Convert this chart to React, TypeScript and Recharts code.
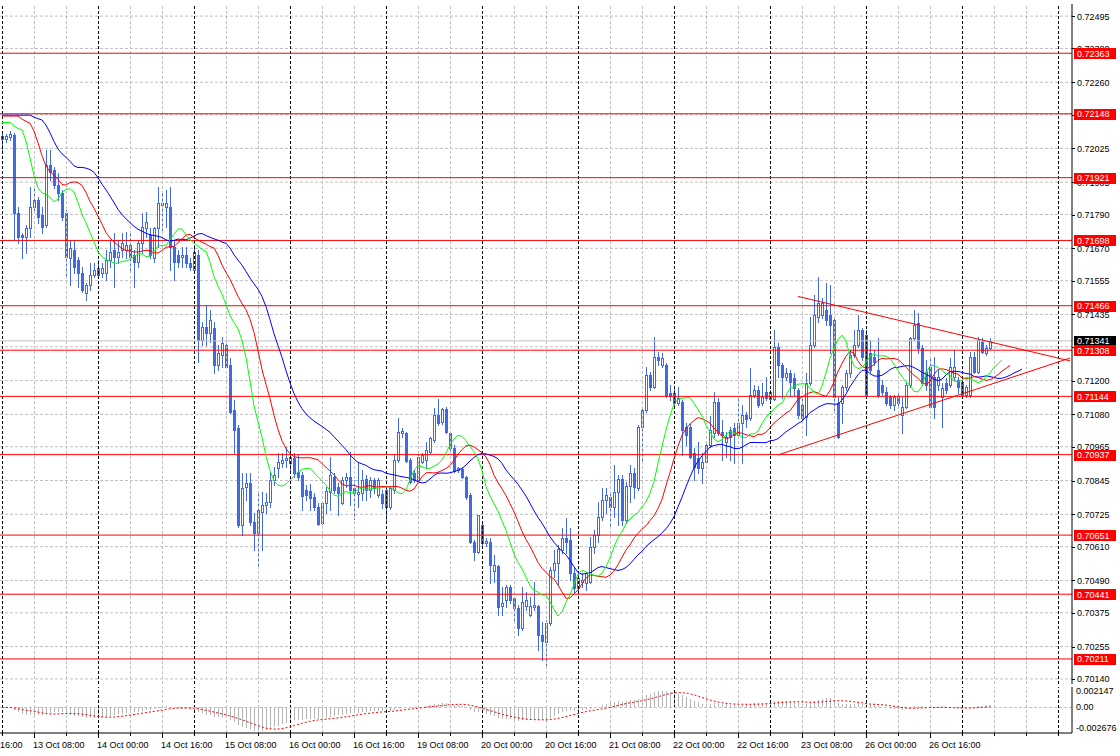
import { Bar, CartesianGrid, ComposedChart, Line, ReferenceLine, XAxis, YAxis } from "recharts";

const FONT = '"Liberation Sans", Arial, sans-serif';
const CANDLE = "#4169e1";
const GRID = "#c0c0c0";

// H1 bars from 13 Oct 00:00 (weekend skipped)
const opens = [
  0.72058, 0.72058, 0.72065, 0.72072, 0.71795, 0.71717, 0.7171, 0.71742,
  0.71817, 0.71842, 0.71788, 0.71753, 0.71966, 0.71948, 0.71895, 0.71867,
  0.71795, 0.71636, 0.71664, 0.71629, 0.71582, 0.71511, 0.7154, 0.71575,
  0.716, 0.71582, 0.71582, 0.71629, 0.71664, 0.71639, 0.71664, 0.71664,
  0.71682, 0.71646, 0.71621, 0.71689, 0.71742, 0.71717, 0.71636, 0.71742,
  0.71824, 0.71817, 0.71817, 0.71675, 0.71646, 0.71639, 0.71646, 0.71618,
  0.71593, 0.71646, 0.71344, 0.71391, 0.71369, 0.71387, 0.71256, 0.71291,
  0.71327, 0.71256, 0.71096, 0.71032, 0.70687, 0.70822, 0.70836, 0.70698,
  0.70659, 0.70733, 0.70758, 0.70769, 0.70847, 0.7089, 0.70907, 0.70918,
  0.70907, 0.70925, 0.70875, 0.70865, 0.70812, 0.70808, 0.70787, 0.70751,
  0.70694, 0.70765, 0.70804, 0.70858, 0.70822, 0.70765, 0.70847, 0.70858,
  0.70819, 0.70797, 0.70801, 0.70851, 0.70812, 0.70847, 0.70794, 0.70797,
  0.70812, 0.70751, 0.70812, 0.70918, 0.71014, 0.71014, 0.70918, 0.70872,
  0.70847, 0.70911, 0.70918, 0.70947, 0.70989, 0.71078, 0.71053, 0.71099,
  0.71014, 0.70961, 0.70883, 0.70886, 0.70858, 0.70794, 0.70627, 0.70591,
  0.70687, 0.70623, 0.70627, 0.70524, 0.70542, 0.704, 0.70421, 0.70467,
  0.70428, 0.70392, 0.70321, 0.704, 0.70368, 0.70396, 0.704, 0.70296,
  0.70272, 0.70339, 0.70527, 0.70552, 0.70598, 0.70641, 0.70634, 0.70517,
  0.70463, 0.70485, 0.70481, 0.70485, 0.70609, 0.70652, 0.70716, 0.70776,
  0.70787, 0.70751, 0.70804, 0.70851, 0.70705, 0.70826, 0.70872, 0.70819,
  0.71035, 0.71096, 0.7122, 0.71177, 0.71284, 0.71256, 0.71256, 0.71156,
  0.71156, 0.71121, 0.71124, 0.71035, 0.71035, 0.70943, 0.70925, 0.7089,
  0.70911, 0.70971, 0.71014, 0.71124, 0.71018, 0.70982, 0.71025, 0.71032,
  0.71007, 0.7105, 0.71078, 0.71067, 0.71149, 0.71167, 0.71121, 0.7116,
  0.71135, 0.71135, 0.71319, 0.71256, 0.71213, 0.71227, 0.71209, 0.71167,
  0.71113, 0.71071, 0.71192, 0.71327, 0.71426, 0.71433, 0.71451, 0.71433,
  0.71415, 0.71121, 0.71121, 0.71177, 0.71227, 0.71291, 0.71327, 0.7138,
  0.71362, 0.71298, 0.71284, 0.71238, 0.71184, 0.7116, 0.71142, 0.71113,
  0.71142, 0.71078, 0.71106, 0.71184, 0.71351, 0.71405, 0.71316, 0.71231,
  0.71248, 0.71213, 0.71184, 0.71142, 0.71192, 0.71184, 0.71213, 0.71202,
  0.71195, 0.71149, 0.71149, 0.71284, 0.71231, 0.71337, 0.71298, 0.71316,
];

const highs = [
  0.72087, 0.72076, 0.72087, 0.7208, 0.71817, 0.71724, 0.71753, 0.71888,
  0.71888, 0.71852, 0.71817, 0.72019, 0.72019, 0.71959, 0.71937, 0.71877,
  0.71806, 0.717, 0.717, 0.71639, 0.71604, 0.71547, 0.71618, 0.71618,
  0.71629, 0.71618, 0.71664, 0.717, 0.71724, 0.717, 0.71724, 0.71728,
  0.71724, 0.71664, 0.717, 0.71795, 0.71799, 0.71742, 0.71746, 0.71888,
  0.7187, 0.71877, 0.71888, 0.717, 0.71664, 0.71675, 0.71675, 0.71636,
  0.71682, 0.71664, 0.71408, 0.71469, 0.71451, 0.71408, 0.71327, 0.71355,
  0.71344, 0.7128, 0.71131, 0.71042, 0.70872, 0.70872, 0.70872, 0.7073,
  0.70801, 0.70804, 0.70801, 0.70875, 0.70893, 0.70943, 0.70943, 0.70964,
  0.70971, 0.70943, 0.70936, 0.70875, 0.70829, 0.70833, 0.70801, 0.70765,
  0.70769, 0.70822, 0.70929, 0.70872, 0.70836, 0.70858, 0.70872, 0.70947,
  0.70847, 0.70911, 0.70883, 0.70865, 0.70858, 0.70854, 0.70854, 0.70812,
  0.70819, 0.70826, 0.70936, 0.71067, 0.71032, 0.71018, 0.70925, 0.70883,
  0.70943, 0.70943, 0.70982, 0.71, 0.71103, 0.71135, 0.71103, 0.71106,
  0.71018, 0.70971, 0.70893, 0.70893, 0.70861, 0.70801, 0.70634, 0.70723,
  0.70698, 0.70641, 0.70641, 0.70581, 0.70545, 0.70467, 0.70474, 0.70474,
  0.70431, 0.70403, 0.70467, 0.70449, 0.70431, 0.70485, 0.70403, 0.70343,
  0.7035, 0.70538, 0.70598, 0.70616, 0.70677, 0.70712, 0.70677, 0.70538,
  0.70517, 0.70517, 0.7052, 0.70645, 0.70669, 0.70769, 0.70819, 0.70819,
  0.70804, 0.709, 0.70865, 0.70865, 0.7084, 0.709, 0.7089, 0.71042,
  0.71103, 0.71248, 0.71231, 0.71355, 0.71302, 0.71298, 0.71263, 0.71184,
  0.71174, 0.71177, 0.71131, 0.7105, 0.7105, 0.70961, 0.70982, 0.70943,
  0.70982, 0.71074, 0.7116, 0.71138, 0.7106, 0.71018, 0.71035, 0.7105,
  0.71138, 0.71113, 0.71089, 0.71245, 0.71184, 0.71181, 0.71192, 0.71213,
  0.71167, 0.7138, 0.71334, 0.71263, 0.71245, 0.71238, 0.71227, 0.71174,
  0.71138, 0.71227, 0.71426, 0.71504, 0.71568, 0.71494, 0.71547, 0.7154,
  0.71426, 0.71142, 0.71184, 0.71238, 0.71309, 0.7138, 0.71433, 0.71387,
  0.7138, 0.71344, 0.71309, 0.71351, 0.71202, 0.71177, 0.71149, 0.71149,
  0.71156, 0.71142, 0.71195, 0.71355, 0.71451, 0.7144, 0.71327, 0.71273,
  0.7128, 0.71284, 0.71238, 0.71192, 0.71209, 0.7128, 0.71309, 0.71213,
  0.71202, 0.71184, 0.71302, 0.71302, 0.71355, 0.71351, 0.71327, 0.71351,
];

const lows = [
  0.72019, 0.72048, 0.72055, 0.717, 0.71689, 0.71636, 0.71653, 0.7171,
  0.71806, 0.7176, 0.71724, 0.71746, 0.71913, 0.71884, 0.71842, 0.71771,
  0.71568, 0.7154, 0.71582, 0.71533, 0.71515, 0.71486, 0.71522, 0.71568,
  0.71568, 0.71568, 0.71557, 0.71604, 0.71533, 0.71618, 0.71639, 0.71636,
  0.71582, 0.71533, 0.71604, 0.71653, 0.7171, 0.71636, 0.71621, 0.71675,
  0.71724, 0.71746, 0.71593, 0.71557, 0.71604, 0.71604, 0.71604, 0.71593,
  0.71586, 0.71266, 0.71327, 0.71327, 0.71337, 0.71227, 0.71238, 0.71248,
  0.71245, 0.71085, 0.70943, 0.7068, 0.70652, 0.70776, 0.70687, 0.70598,
  0.70545, 0.70598, 0.7073, 0.70751, 0.70829, 0.70858, 0.70893, 0.70893,
  0.70883, 0.70858, 0.70847, 0.7074, 0.70776, 0.7074, 0.7074, 0.70687,
  0.70691, 0.7073, 0.7074, 0.70801, 0.70723, 0.70762, 0.70822, 0.70758,
  0.70709, 0.70751, 0.70776, 0.70776, 0.70787, 0.70801, 0.70787, 0.70748,
  0.70694, 0.70744, 0.70801, 0.70911, 0.71, 0.70911, 0.70836, 0.7084,
  0.7084, 0.70907, 0.70893, 0.70943, 0.70982, 0.71042, 0.71046, 0.71014,
  0.70954, 0.70875, 0.70875, 0.70854, 0.7078, 0.70623, 0.70563, 0.70588,
  0.70616, 0.70613, 0.70481, 0.70485, 0.70368, 0.70368, 0.70396, 0.7041,
  0.70339, 0.70296, 0.70314, 0.70385, 0.70364, 0.70385, 0.70243, 0.70208,
  0.7019, 0.70332, 0.70502, 0.70474, 0.70588, 0.70588, 0.70492, 0.70449,
  0.70449, 0.70467, 0.70456, 0.70481, 0.70588, 0.70627, 0.70705, 0.7073,
  0.70687, 0.70716, 0.70687, 0.70687, 0.70694, 0.70769, 0.70783, 0.70812,
  0.70907, 0.71089, 0.71167, 0.71174, 0.71256, 0.71248, 0.71142, 0.71131,
  0.71113, 0.71113, 0.70936, 0.70971, 0.70925, 0.70847, 0.70872, 0.70836,
  0.70907, 0.70964, 0.71, 0.71007, 0.70918, 0.70929, 0.70918, 0.70907,
  0.70996, 0.70907, 0.71035, 0.7106, 0.71142, 0.71106, 0.71113, 0.71131,
  0.71131, 0.71131, 0.71213, 0.71138, 0.71202, 0.71149, 0.71149, 0.71067,
  0.71053, 0.71007, 0.71184, 0.71319, 0.71408, 0.71422, 0.71398, 0.71298,
  0.71096, 0.70996, 0.7105, 0.71167, 0.71213, 0.71284, 0.71319, 0.71273,
  0.71142, 0.71231, 0.71256, 0.71142, 0.71149, 0.71113, 0.71103, 0.71096,
  0.71113, 0.71014, 0.71103, 0.71177, 0.71344, 0.71298, 0.71184, 0.71167,
  0.71103, 0.71067, 0.71167, 0.71035, 0.71156, 0.71177, 0.71202, 0.71156,
  0.71142, 0.71142, 0.71142, 0.71227, 0.71227, 0.71298, 0.71291, 0.71312,
];

const closes = [
  0.72069, 0.72069, 0.72076, 0.71795, 0.7171, 0.7171, 0.71742, 0.71817,
  0.71842, 0.71781, 0.71746, 0.71966, 0.71941, 0.71895, 0.71867, 0.71781,
  0.71639, 0.71671, 0.71604, 0.71582, 0.71522, 0.7154, 0.71575, 0.71593,
  0.71575, 0.716, 0.71629, 0.71657, 0.71639, 0.71657, 0.71689, 0.71682,
  0.71639, 0.71621, 0.71689, 0.71746, 0.71763, 0.71646, 0.71742, 0.71831,
  0.71831, 0.71831, 0.71675, 0.71621, 0.71621, 0.71646, 0.71618, 0.71604,
  0.71657, 0.71344, 0.71391, 0.71369, 0.71415, 0.71256, 0.71298, 0.71334,
  0.71248, 0.71089, 0.71025, 0.70687, 0.70819, 0.70836, 0.70698, 0.70659,
  0.7074, 0.70758, 0.70769, 0.70847, 0.70865, 0.70911, 0.70918, 0.70925,
  0.70929, 0.70872, 0.70858, 0.7079, 0.70794, 0.70783, 0.70751, 0.70691,
  0.70765, 0.70808, 0.70865, 0.70812, 0.70801, 0.70847, 0.70858, 0.70812,
  0.70801, 0.70804, 0.70847, 0.70812, 0.70847, 0.70819, 0.70847, 0.70765,
  0.70751, 0.70819, 0.70918, 0.71018, 0.71021, 0.70915, 0.7084, 0.70847,
  0.70929, 0.70936, 0.70954, 0.70996, 0.71078, 0.7105, 0.71099, 0.71018,
  0.70961, 0.70879, 0.7089, 0.70858, 0.70787, 0.70627, 0.70591, 0.70723,
  0.70623, 0.7063, 0.70545, 0.70545, 0.70396, 0.7041, 0.70467, 0.70421,
  0.70392, 0.70321, 0.70414, 0.70421, 0.704, 0.70403, 0.70296, 0.70275,
  0.70339, 0.70527, 0.70552, 0.70602, 0.70641, 0.70627, 0.70517, 0.70463,
  0.70499, 0.70492, 0.70517, 0.70609, 0.70652, 0.70716, 0.70776, 0.70794,
  0.70751, 0.70804, 0.70851, 0.70705, 0.70826, 0.70872, 0.70822, 0.71035,
  0.71096, 0.7122, 0.71177, 0.71284, 0.71273, 0.7128, 0.71149, 0.71145,
  0.71121, 0.71138, 0.71025, 0.71007, 0.70929, 0.70893, 0.7089, 0.70911,
  0.70971, 0.71025, 0.71124, 0.71014, 0.71007, 0.71, 0.71, 0.71007,
  0.7105, 0.71078, 0.71064, 0.71149, 0.71167, 0.71113, 0.71142, 0.71138,
  0.7116, 0.71319, 0.71256, 0.71213, 0.71227, 0.71195, 0.71174, 0.71078,
  0.71067, 0.71192, 0.71327, 0.71433, 0.71476, 0.71476, 0.71415, 0.71398,
  0.71142, 0.71, 0.71177, 0.71227, 0.71291, 0.71327, 0.7138, 0.71284,
  0.71149, 0.71238, 0.71266, 0.71149, 0.7116, 0.71121, 0.71113, 0.71142,
  0.71121, 0.71106, 0.71184, 0.71351, 0.71398, 0.71316, 0.71192, 0.71184,
  0.71106, 0.71106, 0.71213, 0.71174, 0.71167, 0.71248, 0.71248, 0.71177,
  0.71149, 0.71177, 0.71284, 0.71231, 0.71344, 0.71302, 0.71316, 0.71341,
];

// horizontal levels drawn on the chart
const levelPrices = [0.72363, 0.72148, 0.71921, 0.71698, 0.71466, 0.71308, 0.71144, 0.70937, 0.70651, 0.70441, 0.70211];
const bidPrice = 0.71341;

// triangle trend lines (bar index, price)
const upperTrend = [{ bar: 199, price: 0.71499 }, { bar: 267, price: 0.7127 }];
const lowerTrend = [{ bar: 194, price: 0.70936 }, { bar: 267, price: 0.7128 }];

const priceTicks = [
  0.72495, 0.7238, 0.7226, 0.72145, 0.72025, 0.71905, 0.7179, 0.7167, 0.71555, 0.71435, 0.7132,
  0.712, 0.7108, 0.70965, 0.70845, 0.70725, 0.7061, 0.7049, 0.70375, 0.70255, 0.7014,
];
// plain ticks first, price tags last so the tags sit on top
const axisTicks = [...priceTicks, bidPrice, ...levelPrices];

const macdTicks = [0.002147, 0, -0.002676];
const macdTickLabels = ["0.002147", "0.00", "-0.002676"];

const timeTickBars = [0, 8, 24, 40, 56, 72, 88, 104, 120, 136, 152, 168, 184, 200, 216, 232];
const timeTickLabels = [
  "16:00", "13 Oct 08:00", "14 Oct 00:00", "14 Oct 16:00", "15 Oct 08:00", "16 Oct 00:00",
  "16 Oct 16:00", "19 Oct 08:00", "20 Oct 00:00", "20 Oct 16:00", "21 Oct 08:00",
  "22 Oct 00:00", "22 Oct 16:00", "23 Oct 08:00", "26 Oct 00:00", "26 Oct 16:00",
];

// alligator (SMMA of median price) — values carried in from before the first visible bar
const JAW_SEED = 0.72143;
const TEETH_SEED = 0.7214;
const LIPS_SEED = 0.72117;

const SLOTS = 268; // visible bars + right shift
const PRICE_MIN = 0.70122;
const PRICE_MAX = 0.72538;
const MACD_MIN = -0.002676;
const MACD_MAX = 0.002147;

const median = highs.map((h, i) => (h + lows[i]) / 2);

function smma(src: number[], n: number, seed: number) {
  let s = seed;
  return src.map((v) => (s = (s * (n - 1) + v) / n));
}

function ema(src: number[], n: number) {
  const a = 2 / (n + 1);
  let e = src[0];
  return src.map((v) => (e = e + a * (v - e)));
}

function shifted(raw: number[], shift: number, seed: number, k: number) {
  if (k < shift) return seed;
  return k - shift < raw.length ? raw[k - shift] : null;
}

const jawRaw = smma(median, 13, JAW_SEED);
const teethRaw = smma(median, 8, TEETH_SEED);
const lipsRaw = smma(median, 5, LIPS_SEED);

const ema12 = ema(closes, 12);
const ema26 = ema(closes, 26);
const macdMain = ema12.map((v, i) => v - ema26[i]);
const macdSignal = macdMain.map((_, i) => {
  const from = Math.max(0, i - 8);
  const part = macdMain.slice(from, i + 1);
  return part.reduce((a, b) => a + b, 0) / part.length;
});

const rows = Array.from({ length: SLOTS }, (_, i) => {
  const has = i < opens.length;
  return {
    i,
    range: has ? [lows[i], highs[i]] : null,
    o: has ? opens[i] : null,
    h: has ? highs[i] : null,
    l: has ? lows[i] : null,
    c: has ? closes[i] : null,
    jaw: shifted(jawRaw, 8, JAW_SEED, i),
    teeth: shifted(teethRaw, 5, TEETH_SEED, i),
    lips: shifted(lipsRaw, 3, LIPS_SEED, i),
    macd: has ? macdMain[i] : null,
    signal: has ? macdSignal[i] : null,
  };
});

const gridBars = Array.from({ length: 34 }, (_, k) => k * 8);

function Candle(props: any) {
  const { x, y, width, height, payload } = props;
  if (!payload || payload.o == null) return <g />;
  const { o, h, l, c } = payload;
  const top = Math.min(y, y + height);
  const bottom = Math.max(y, y + height);
  const toY = (v: number) => top + ((h - v) / (h - l || 1)) * (bottom - top);
  const cx = Math.floor(x + width / 2);
  const yo = Math.round(toY(o));
  const yc = Math.round(toY(c));
  const bTop = Math.min(yo, yc);
  const bBot = Math.max(yo, yc);
  const bull = c > o;
  return (
    <g shapeRendering="crispEdges">
      <line x1={cx + 0.5} x2={cx + 0.5} y1={Math.round(top)} y2={Math.round(bottom) + 1} stroke={CANDLE} />
      {bull ? (
        <rect x={cx - 0.5} y={bTop + 0.5} width={2} height={Math.max(bBot - bTop, 1)} fill="#fff" stroke={CANDLE} />
      ) : (
        <rect x={cx - 1} y={bTop} width={3} height={Math.max(bBot - bTop, 1) + 1} fill={CANDLE} />
      )}
    </g>
  );
}

function HistBar(props: any) {
  const { x, y, width, height } = props;
  if (height == null || isNaN(height)) return <g />;
  const top = Math.min(y, y + height);
  return (
    <rect x={Math.floor(x + width / 2)} y={top} width={1} height={Math.abs(height)} fill="#b4b4b4" shapeRendering="crispEdges" />
  );
}

function PriceAxisTick(props: any) {
  const { x, y, payload } = props;
  const v = payload.value;
  const isTag = v === bidPrice || levelPrices.indexOf(v) >= 0;
  if (isTag) {
    const bg = v === bidPrice ? "#000" : "#ff0000";
    return (
      <g>
        <rect x={x - 3} y={Math.round(y) - 5} width={42} height={11} fill={bg} />
        <text x={x} y={y + 3.5} fontSize={9} fill="#fff" fontFamily={FONT}>
          {v.toFixed(5)}
        </text>
      </g>
    );
  }
  return (
    <g>
      <line x1={x - 5} x2={x - 2} y1={Math.round(y) + 0.5} y2={Math.round(y) + 0.5} stroke="#000" />
      <text x={x} y={y + 3.5} fontSize={9} fill="#000" fontFamily={FONT}>
        {v.toFixed(5)}
      </text>
    </g>
  );
}

function TimeTick(props: any) {
  const { x, y, payload } = props;
  const k = timeTickBars.indexOf(payload.value);
  const px = Math.floor(x) + 0.5;
  return (
    <g>
      <line x1={px} x2={px} y1={y} y2={y + (k > 0 ? 5 : 3)} stroke="#000" />
      {k >= 0 && (
        <text x={k === 0 ? 0 : x - 1} y={y + 15} fontSize={9} fill="#000" fontFamily={FONT}>
          {timeTickLabels[k]}
        </text>
      )}
    </g>
  );
}

function MacdTick(props: any) {
  const { x, y, payload } = props;
  const k = macdTicks.indexOf(payload.value);
  const dy = payload.value === MACD_MAX ? 4 : payload.value === MACD_MIN ? -5 : 0;
  return (
    <text x={x} y={y + dy + 3} fontSize={9} fill="#000" fontFamily={FONT}>
      {macdTickLabels[k]}
    </text>
  );
}

function gridLines() {
  return gridBars.map((b) => (
    <ReferenceLine
      key={"g" + b}
      x={b}
      stroke={b % 24 === 0 ? "#000" : GRID}
      strokeDasharray="3 2"
      shapeRendering="crispEdges"
    />
  ));
}

export default function App() {
  return (
    <div style={{ position: "absolute", left: 0, top: 0, width: 1120, height: 756, background: "#fff", fontFamily: FONT }}>
      <div style={{ position: "absolute", left: 0, top: 0 }}>
        <ComposedChart
          width={1120}
          height={688}
          data={rows}
          margin={{ top: 4, right: 0, bottom: 4, left: 0 }}
          barCategoryGap={0}
        >
          <XAxis dataKey="i" height={0} tick={false} tickLine={false} axisLine={{ stroke: "#000" }} />
          <XAxis xAxisId="top" dataKey="i" orientation="top" height={0} tick={false} tickLine={false} axisLine={{ stroke: "#000" }} />
          <YAxis
            orientation="right"
            width={48}
            domain={[PRICE_MIN, PRICE_MAX]}
            allowDataOverflow
            ticks={axisTicks}
            interval={0}
            tickSize={3}
            tickMargin={2}
            tickLine={false}
            axisLine={{ stroke: "#000" }}
            tick={(p: any) => <PriceAxisTick {...p} />}
          />
          <CartesianGrid vertical={false} horizontalValues={priceTicks} stroke={GRID} strokeDasharray="3 2" />
          {gridLines()}
          <ReferenceLine y={bidPrice} stroke={GRID} />
          {levelPrices.map((p) => (
            <ReferenceLine key={p} y={p} stroke="#ff0000" />
          ))}
          <ReferenceLine
            segment={[{ x: upperTrend[0].bar, y: upperTrend[0].price }, { x: upperTrend[1].bar, y: upperTrend[1].price }]}
            stroke="#ff0000"
          />
          <ReferenceLine
            segment={[{ x: lowerTrend[0].bar, y: lowerTrend[0].price }, { x: lowerTrend[1].bar, y: lowerTrend[1].price }]}
            stroke="#ff0000"
          />
          <Bar dataKey="range" barSize={3} shape={(p: any) => <Candle {...p} />} isAnimationActive={false} />
          <Line dataKey="jaw" stroke="#0000ff" strokeWidth={1} dot={false} activeDot={false} isAnimationActive={false} />
          <Line dataKey="teeth" stroke="#ff0000" strokeWidth={1} dot={false} activeDot={false} isAnimationActive={false} />
          <Line dataKey="lips" stroke="#00ff00" strokeWidth={1} dot={false} activeDot={false} isAnimationActive={false} />
        </ComposedChart>
      </div>
      <div style={{ position: "absolute", left: 0, top: 684 }}>
        <ComposedChart
          width={1120}
          height={72}
          data={rows}
          margin={{ top: 3, right: 0, bottom: 0, left: 0 }}
          barCategoryGap={0}
        >
          <XAxis
            dataKey="i"
            height={23}
            ticks={gridBars}
            interval={0}
            tickSize={0}
            tickMargin={0}
            tickLine={false}
            axisLine={{ stroke: "#000" }}
            tick={(p: any) => <TimeTick {...p} />}
          />
          <XAxis xAxisId="top" dataKey="i" orientation="top" height={0} tick={false} tickLine={false} axisLine={{ stroke: "#000" }} />
          <YAxis
            orientation="right"
            width={48}
            domain={[MACD_MIN, MACD_MAX]}
            allowDataOverflow
            ticks={macdTicks}
            interval={0}
            tickSize={0}
            tickMargin={4}
            tickLine={false}
            axisLine={{ stroke: "#000" }}
            tick={(p: any) => <MacdTick {...p} />}
          />
          {gridLines()}
          <ReferenceLine y={0} stroke={GRID} strokeDasharray="3 2" />
          <Bar dataKey="macd" barSize={1} shape={(p: any) => <HistBar {...p} />} isAnimationActive={false} />
          <Line dataKey="signal" stroke="#ff0000" strokeDasharray="2 2" strokeWidth={1} dot={false} activeDot={false} isAnimationActive={false} />
        </ComposedChart>
      </div>
    </div>
  );
}
